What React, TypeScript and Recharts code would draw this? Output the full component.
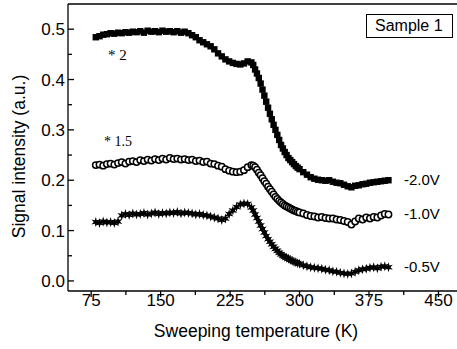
import { ScatterChart, Scatter, XAxis, YAxis, ReferenceLine } from "recharts";

// sweep temperatures (K), shared by all three curves (denser through the steep drop)
const temps = [
  80, 84, 88, 92, 96, 100, 104, 108, 112, 116, 120, 124, 128, 132, 136, 140, 144, 148, 152, 156,
  160, 164, 168, 172, 176, 180, 184, 188, 192, 196, 200, 204, 208, 212, 216, 220, 224, 228, 232, 236,
  240, 244,
  248, 250, 252, 254, 256, 258, 260, 262, 264, 266, 268, 270, 272, 274, 276, 278, 280, 282, 284, 286,
  288, 290, 292, 294, 296, 298, 300,
  304, 308, 312, 316, 320, 324, 328, 332, 336, 340, 344, 348, 352, 356, 360, 364, 368, 372, 376, 380,
  384, 388, 392, 396,
];

// -2.0V (scaled * 2)
const signal20 = [
  0.484, 0.486, 0.489, 0.49, 0.492, 0.491, 0.493, 0.492, 0.494, 0.493, 0.495, 0.494, 0.496, 0.493, 0.497, 0.495, 0.496, 0.494, 0.497, 0.495,
  0.496, 0.494, 0.496, 0.493, 0.495, 0.492, 0.488, 0.484, 0.478, 0.474, 0.47, 0.466, 0.46, 0.452, 0.446, 0.44, 0.436, 0.433, 0.431, 0.43,
  0.432, 0.436,
  0.434, 0.429, 0.42, 0.412, 0.403, 0.392, 0.38, 0.368, 0.356, 0.344, 0.332, 0.321, 0.31, 0.3, 0.29, 0.28, 0.27, 0.263, 0.256, 0.25,
  0.244, 0.24, 0.236, 0.232, 0.228, 0.225, 0.222,
  0.216, 0.211, 0.206, 0.203, 0.201, 0.2, 0.199, 0.2, 0.197, 0.195, 0.194, 0.191, 0.188, 0.186, 0.189, 0.19, 0.192, 0.193, 0.195, 0.196,
  0.197, 0.198, 0.199, 0.2,
];

// -1.0V (scaled * 1.5)
const signal10 = [
  0.23, 0.231, 0.229, 0.232, 0.233, 0.231, 0.234, 0.236, 0.233, 0.237, 0.238, 0.236, 0.24, 0.238, 0.241, 0.239, 0.242, 0.24, 0.243, 0.241,
  0.244, 0.242, 0.243, 0.241, 0.242, 0.24, 0.241, 0.238, 0.239, 0.236, 0.237, 0.233, 0.232, 0.229, 0.227, 0.222, 0.219, 0.217, 0.216, 0.217,
  0.22, 0.226,
  0.23, 0.229, 0.226, 0.221, 0.215, 0.21, 0.204, 0.198, 0.193, 0.187, 0.182, 0.177, 0.172, 0.167, 0.163, 0.159, 0.156, 0.153, 0.15, 0.148,
  0.146, 0.144, 0.142, 0.14, 0.139, 0.137, 0.136,
  0.134, 0.131, 0.129, 0.128, 0.126, 0.127, 0.125, 0.124, 0.124, 0.122, 0.121, 0.119, 0.117, 0.112, 0.118, 0.124, 0.122, 0.126, 0.124, 0.127,
  0.126, 0.13, 0.133, 0.132,
];

// -0.5V
const signal05 = [
  0.117, 0.115, 0.118, 0.116, 0.117, 0.115, 0.118, 0.13, 0.133, 0.131, 0.134, 0.132, 0.133, 0.135, 0.132, 0.134, 0.136, 0.133, 0.135, 0.134,
  0.136, 0.135, 0.137, 0.134, 0.136, 0.135, 0.134, 0.132, 0.133, 0.131, 0.13, 0.128, 0.126, 0.124, 0.121, 0.124, 0.133, 0.14, 0.147, 0.152,
  0.154, 0.153,
  0.146, 0.14, 0.132, 0.125, 0.118, 0.11, 0.103, 0.096, 0.089, 0.083, 0.078, 0.073, 0.068, 0.064, 0.06, 0.056, 0.053, 0.05, 0.048, 0.046,
  0.044, 0.042, 0.04, 0.038, 0.037, 0.035, 0.034,
  0.031, 0.029, 0.027, 0.026, 0.025, 0.024, 0.022, 0.021, 0.019, 0.018, 0.016, 0.015, 0.014, 0.015, 0.018, 0.021, 0.023, 0.024, 0.026, 0.027,
  0.025, 0.028, 0.029, 0.027,
];

const xTicks = [75, 112.5, 150, 187.5, 225, 262.5, 300, 337.5, 375, 412.5, 450];
const yTicks = [0, 0.05, 0.1, 0.15, 0.2, 0.25, 0.3, 0.35, 0.4, 0.45, 0.5];

const toPoints = (vals: number[]) => temps.map((t, i) => ({ x: t, y: vals[i] }));

const FONT = "'Liberation Sans', Arial, sans-serif";

const XTick = ({ x, y, payload }: any) => {
  const major = Math.abs(payload.value % 75) < 1e-6;
  return (
    <g>
      <line x1={x} x2={x} y1={y} y2={y + (major ? 6 : 4)} stroke="#000" strokeWidth={1.3} />
      {major && (
        <text x={x} y={y + 15} textAnchor="middle" fontSize={17} fontFamily={FONT} fill="#000">
          {payload.value}
        </text>
      )}
    </g>
  );
};

const YTick = ({ x, y, payload }: any) => {
  const major = Math.round(payload.value * 100) % 10 === 0;
  return (
    <g>
      <line x1={x} x2={x + (major ? 6 : 4)} y1={y} y2={y} stroke="#000" strokeWidth={1.3} />
      {major && (
        <text x={x - 3} y={y + 6} textAnchor="end" fontSize={17} fontFamily={FONT} fill="#000">
          {payload.value.toFixed(1)}
        </text>
      )}
    </g>
  );
};

const Square = ({ cx, cy }: any) => <rect x={cx - 3.2} y={cy - 3.2} width={6.4} height={6.4} fill="#000" />;
const Ring = ({ cx, cy }: any) => <circle cx={cx} cy={cy} r={3.2} fill="#fff" stroke="#000" strokeWidth={1.5} />;
const Star = ({ cx, cy }: any) => {
  const pts: string[] = [];
  for (let k = 0; k < 12; k++) {
    const r = k % 2 === 0 ? 5 : 2;
    const a = (Math.PI / 6) * k - Math.PI / 2;
    pts.push(`${cx + r * Math.cos(a)},${cy + r * Math.sin(a)}`);
  }
  return <polygon points={pts.join(" ")} fill="#000" />;
};

export default function App() {
  return (
    <div style={{ position: "absolute", left: 0, top: 0, width: 457, height: 349, background: "#fff" }}>
      <ScatterChart width={457} height={349} margin={{ top: 4, right: 0, left: 0, bottom: 0 }}>
        <XAxis
          dataKey="x"
          type="number"
          domain={[50, 470]}
          ticks={xTicks}
          interval={0}
          allowDataOverflow
          height={58}
          tickSize={0}
          tickMargin={0}
          tickLine={false}
          tick={(p: any) => <XTick {...p} />}
          axisLine={{ stroke: "#000", strokeWidth: 1.3 }}
        />
        <YAxis
          dataKey="y"
          type="number"
          domain={[-0.02, 0.55]}
          ticks={yTicks}
          interval={0}
          allowDataOverflow
          width={68}
          tickSize={0}
          tickMargin={0}
          tickLine={false}
          tick={(p: any) => <YTick {...p} />}
          axisLine={{ stroke: "#000", strokeWidth: 1.3 }}
        />
        <ReferenceLine y={0.55} stroke="#000" strokeWidth={1.3} />
        <Scatter data={toPoints(signal20)} shape={(p: any) => <Square {...p} />} isAnimationActive={false} />
        <Scatter data={toPoints(signal10)} shape={(p: any) => <Ring {...p} />} isAnimationActive={false} />
        <Scatter data={toPoints(signal05)} shape={(p: any) => <Star {...p} />} isAnimationActive={false} />
      </ScatterChart>
      <svg width={457} height={349} style={{ position: "absolute", left: 0, top: 0, pointerEvents: "none" }}>
        <g fontFamily={FONT} fill="#000">
          <text transform="translate(25,156.5) rotate(-90)" textAnchor="middle" fontSize={17.5}>
            Signal intensity (a.u.)
          </text>
          <text x={256} y={337} textAnchor="middle" fontSize={17.5}>
            Sweeping temperature (K)
          </text>
          <rect x={366.5} y={14.5} width={86} height={23} fill="#fff" stroke="#000" strokeWidth={1} />
          <text x={375} y={31} fontSize={16}>Sample 1</text>
          <text x={404} y={185} fontSize={15}>-2.0V</text>
          <text x={404} y={219} fontSize={15}>-1.0V</text>
          <text x={404} y={272} fontSize={15}>-0.5V</text>
        </g>
        <g fontFamily="'Liberation Serif', 'Times New Roman', serif" fill="#000">
          <text x={108} y={60} fontSize={15}>* 2</text>
          <text x={104} y={146} fontSize={14}>* 1.5</text>
        </g>
      </svg>
    </div>
  );
}
